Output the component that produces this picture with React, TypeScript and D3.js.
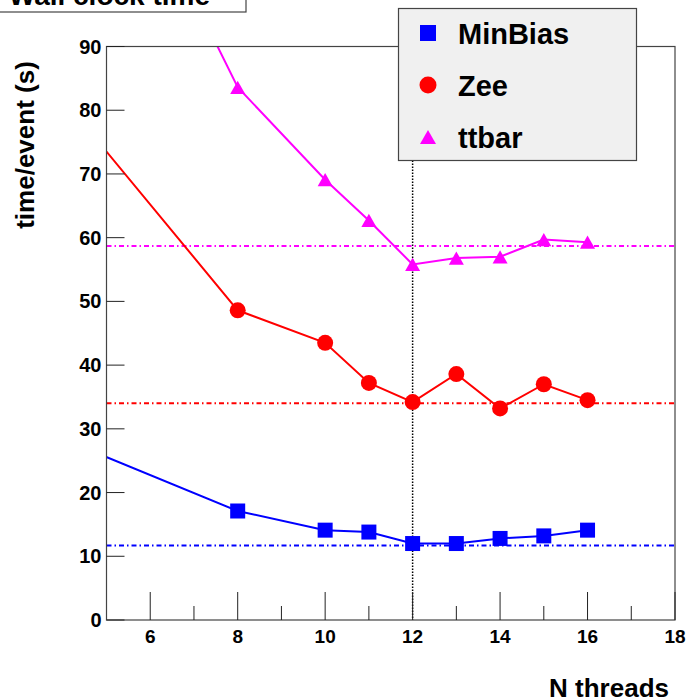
import React, {useEffect, useRef} from 'react';
import * as d3 from 'd3';

// thread counts (first point lies left of the visible range, its line comes in from the edge)
const threads = [4, 8, 10, 11, 12, 13, 14, 15, 16];
const minBias = [28.4, 17.1, 14.1, 13.8, 12.0, 12.0, 12.8, 13.2, 14.1];
const zee = [81.8, 48.6, 43.5, 37.2, 34.2, 38.6, 33.2, 37.0, 34.5];
const ttbar = [139.2, 83.6, 69.1, 62.7, 55.8, 56.8, 57.0, 59.7, 59.3];

const seriesNames = ['MinBias', 'Zee', 'ttbar'];
const seriesColors = ['#0000ff', '#ff0000', '#ff00ff'];
const referenceLevels = [11.7, 34.0, 58.7];
const markedThread = 12;

const xTicks = [6, 8, 10, 12, 14, 16, 18];
const xMinorTicks = [7, 9, 11, 13, 15, 17];
const yTicks = [0, 10, 20, 30, 40, 50, 60, 70, 80, 90];

const FONT = '"Liberation Sans", Arial, Helvetica, sans-serif';

const markerPath = (kind: number, s: number) => {
  if (kind === 0) return `M${-s / 2},${-s / 2}h${s}v${s}h${-s}Z`;
  if (kind === 1) {
    const r = s / 2;
    return `M${-r},0a${r},${r} 0 1,0 ${2 * r},0a${r},${r} 0 1,0 ${-2 * r},0Z`;
  }
  const h = s * 0.88;
  return `M0,${-h / 2}L${s / 2},${h / 2}L${-s / 2},${h / 2}Z`;
};

const WallClockChart = () => {
  const ref = useRef<SVGSVGElement>(null);

  useEffect(() => {
    const width = 686;
    const height = 700;
    const left = 106.5, right = 675, top = 46.5, bottom = 620;

    const svg = d3.select(ref.current)
      .attr('width', width)
      .attr('height', height)
      .style('font-family', FONT)
      .style('font-weight', 'bold');
    svg.selectAll('*').remove();

    const x = d3.scaleLinear().domain([5, 18]).range([left, right]);
    const y = d3.scaleLinear().domain([0, 90]).range([bottom, top]);

    svg.append('defs').append('clipPath').attr('id', 'plotClip')
      .append('rect')
      .attr('x', left).attr('y', top)
      .attr('width', right - left).attr('height', bottom - top);

    const plot = svg.append('g').attr('clip-path', 'url(#plotClip)');

    // horizontal reference levels
    referenceLevels.forEach((lvl, i) => {
      plot.append('line')
        .attr('x1', left).attr('x2', right)
        .attr('y1', y(lvl)).attr('y2', y(lvl))
        .attr('stroke', seriesColors[i])
        .attr('stroke-width', 2)
        .attr('stroke-dasharray', '5 3 1.5 3');
    });

    // vertical marker
    plot.append('line')
      .attr('x1', x(markedThread)).attr('x2', x(markedThread))
      .attr('y1', top).attr('y2', bottom)
      .attr('stroke', '#000')
      .attr('stroke-width', 1.5)
      .attr('stroke-dasharray', '1.5 1.5');

    const line = d3.line<number>()
      .x((_, i) => x(threads[i]))
      .y(d => y(d));

    const sizes = [15, 16, 15];
    [minBias, zee, ttbar].forEach((vals, k) => {
      plot.append('path')
        .datum(vals)
        .attr('fill', 'none')
        .attr('stroke', seriesColors[k])
        .attr('stroke-width', 2)
        .attr('d', line);

      plot.selectAll(null)
        .data(vals)
        .enter()
        .append('path')
        .attr('transform', (d, i) => `translate(${x(threads[i])},${y(d)})`)
        .attr('d', markerPath(k, sizes[k]))
        .attr('fill', seriesColors[k]);
    });

    // frame
    svg.append('rect')
      .attr('x', left).attr('y', top)
      .attr('width', right - left).attr('height', bottom - top)
      .attr('fill', 'none')
      .attr('stroke', '#444')
      .attr('stroke-width', 1.2);

    // x ticks
    xTicks.forEach(t => {
      svg.append('line')
        .attr('x1', x(t)).attr('x2', x(t))
        .attr('y1', bottom).attr('y2', bottom - 28)
        .attr('stroke', '#222');
      svg.append('text')
        .attr('x', x(t)).attr('y', bottom + 23)
        .attr('text-anchor', 'middle')
        .attr('font-size', 19)
        .text(t);
    });
    xMinorTicks.forEach(t => {
      svg.append('line')
        .attr('x1', x(t)).attr('x2', x(t))
        .attr('y1', bottom).attr('y2', bottom - 14)
        .attr('stroke', '#222');
    });

    // y ticks
    yTicks.forEach(t => {
      svg.append('line')
        .attr('x1', left).attr('x2', left + 18)
        .attr('y1', y(t)).attr('y2', y(t))
        .attr('stroke', '#222');
      svg.append('text')
        .attr('x', left - 5).attr('y', y(t) + 7)
        .attr('text-anchor', 'end')
        .attr('font-size', 20)
        .text(t);
    });

    // axis titles
    svg.append('text')
      .attr('x', 669).attr('y', 697)
      .attr('text-anchor', 'end')
      .attr('font-size', 26)
      .text('N threads');

    svg.append('text')
      .attr('transform', `translate(34,${(60 + 230) / 2}) rotate(-90)`)
      .attr('text-anchor', 'middle')
      .attr('font-size', 26)
      .text('time/event (s)');

    // title box
    svg.append('rect')
      .attr('x', -1).attr('y', -30)
      .attr('width', 247).attr('height', 42)
      .attr('fill', '#fff')
      .attr('stroke', '#444')
      .attr('stroke-width', 1.2);
    svg.append('text')
      .attr('x', 210).attr('y', 5)
      .attr('text-anchor', 'end')
      .attr('font-size', 28)
      .text('Wall clock time');

    // legend
    const legend = svg.append('g');
    legend.append('rect')
      .attr('x', 398.5).attr('y', 8.5)
      .attr('width', 238).attr('height', 152)
      .attr('fill', '#f0f0f0')
      .attr('stroke', '#444')
      .attr('stroke-width', 1.2);
    const rowY = [33, 85, 137];
    seriesNames.forEach((name, k) => {
      legend.append('path')
        .attr('transform', `translate(428,${rowY[k]})`)
        .attr('d', markerPath(k, k === 1 ? 17 : 16))
        .attr('fill', seriesColors[k]);
      legend.append('text')
        .attr('x', 458).attr('y', rowY[k] + 11)
        .attr('font-size', 29)
        .text(name);
    });
  }, []);

  return <svg ref={ref} style={{position: 'absolute', left: 0, top: 0}} />;
};

export default function App() {
  return <WallClockChart />;
}
